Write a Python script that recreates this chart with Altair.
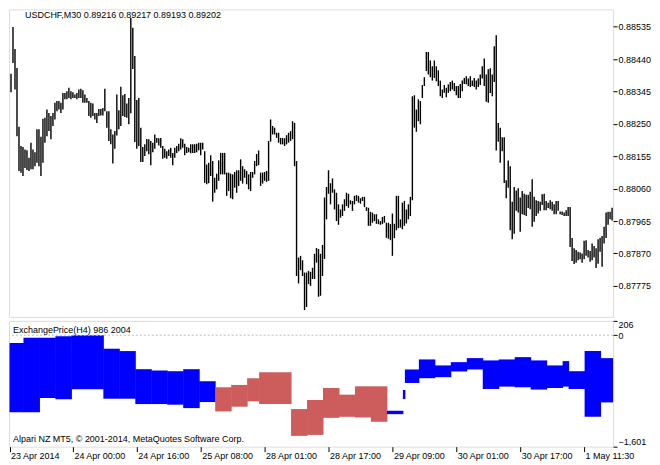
import altair as alt
import pandas as pd

FONT = "Liberation Sans"

title_text = "USDCHF,M30  0.89216 0.89217 0.89193 0.89202"
ind_title = "ExchangePrice(H4) 986 2004"
copyright_text = "Alpari NZ MT5, \u00a9 2001-2014, MetaQuotes Software Corp."

# M30 bars, high / low prices (bar 1 .. 302)
high = [
    0.88397, 0.88534, 0.88470, 0.88414, 0.88242, 0.88185, 0.88182, 0.88175, 0.88173, 0.88151,
    0.88195, 0.88175, 0.88167, 0.88234, 0.88234, 0.88212, 0.88265, 0.88268, 0.88292, 0.88282,
    0.88273, 0.88282, 0.88312, 0.88317, 0.88317, 0.88312, 0.88341, 0.88341, 0.88346, 0.88356,
    0.88346, 0.88343, 0.88336, 0.88341, 0.88351, 0.88353, 0.88349, 0.88336, 0.88326, 0.88317,
    0.88312, 0.88310, 0.88282, 0.88282, 0.88294, 0.88294, 0.88297, 0.88353, 0.88287, 0.88287,
    0.88234, 0.88219, 0.88229, 0.88336, 0.88290, 0.88359, 0.88334, 0.88338, 0.88310, 0.88326,
    0.88561, 0.88532, 0.88449, 0.88320, 0.88326, 0.88239, 0.88182, 0.88190, 0.88206, 0.88205,
    0.88200, 0.88195, 0.88219, 0.88209, 0.88208, 0.88209, 0.88185, 0.88177, 0.88170, 0.88175,
    0.88180, 0.88165, 0.88180, 0.88185, 0.88192, 0.88208, 0.88205, 0.88192, 0.88182, 0.88180,
    0.88190, 0.88190, 0.88190, 0.88192, 0.88195, 0.88195, 0.88195, 0.88170, 0.88131, 0.88136,
    0.88158, 0.88141, 0.88092, 0.88104, 0.88143, 0.88165, 0.88165, 0.88165, 0.88107, 0.88107,
    0.88104, 0.88102, 0.88109, 0.88114, 0.88114, 0.88146, 0.88126, 0.88117, 0.88112, 0.88102,
    0.88109, 0.88109, 0.88141, 0.88162, 0.88172, 0.88107, 0.88107, 0.88109, 0.88112, 0.88200,
    0.88263, 0.88244, 0.88239, 0.88224, 0.88224, 0.88209, 0.88209, 0.88208, 0.88217, 0.88224,
    0.88229, 0.88258, 0.88253, 0.88141, 0.87858, 0.87863, 0.87850, 0.87814, 0.87814, 0.87819,
    0.87816, 0.87828, 0.87869, 0.87886, 0.87883, 0.87869, 0.87895, 0.88034, 0.88065, 0.88114,
    0.88076, 0.88090, 0.88058, 0.88048, 0.88014, 0.87999, 0.88014, 0.88029, 0.88048, 0.88045,
    0.88026, 0.88024, 0.88039, 0.88041, 0.88039, 0.88032, 0.88036, 0.88036, 0.88006, 0.88004,
    0.87992, 0.87990, 0.87985, 0.87985, 0.87970, 0.87965, 0.87977, 0.87980, 0.87960, 0.87960,
    0.87956, 0.87987, 0.87957, 0.88039, 0.88039, 0.87970, 0.88019, 0.88024, 0.87999, 0.88014,
    0.88036, 0.88331, 0.88334, 0.88292, 0.88322, 0.88317, 0.88364, 0.88387, 0.88461, 0.88461,
    0.88436, 0.88419, 0.88436, 0.88419, 0.88407, 0.88377, 0.88351, 0.88364, 0.88356, 0.88366,
    0.88373, 0.88377, 0.88370, 0.88361, 0.88361, 0.88367, 0.88377, 0.88385, 0.88390, 0.88383,
    0.88390, 0.88377, 0.88385, 0.88377, 0.88383, 0.88395, 0.88419, 0.88442, 0.88395, 0.88410,
    0.88413, 0.88395, 0.88478, 0.88510, 0.88253, 0.88239, 0.88211, 0.88211, 0.88085, 0.88143,
    0.88126, 0.88022, 0.88065, 0.88055, 0.88061, 0.88034, 0.88053, 0.88045, 0.88042, 0.88042,
    0.88051, 0.88088, 0.88036, 0.88026, 0.88024, 0.88022, 0.88044, 0.88045, 0.88024, 0.88019,
    0.88026, 0.88022, 0.88014, 0.88024, 0.88024, 0.87993, 0.87993, 0.87990, 0.87997, 0.88006,
    0.88006, 0.87915, 0.87885, 0.87880, 0.87875, 0.87873, 0.87870, 0.87907, 0.87909, 0.87880,
    0.87877, 0.87899, 0.87892, 0.87885, 0.87912, 0.87916, 0.87921, 0.87948, 0.87990, 0.87992,
    0.87992, 0.88004,
]
low = [
    0.88343, 0.88429, 0.88351, 0.88214, 0.88112, 0.88107, 0.88097, 0.88121, 0.88115, 0.88112,
    0.88117, 0.88117, 0.88126, 0.88136, 0.88126, 0.88097, 0.88136, 0.88195, 0.88214, 0.88229,
    0.88205, 0.88244, 0.88263, 0.88287, 0.88292, 0.88282, 0.88292, 0.88322, 0.88322, 0.88326,
    0.88322, 0.88326, 0.88326, 0.88322, 0.88326, 0.88326, 0.88312, 0.88312, 0.88312, 0.88273,
    0.88268, 0.88273, 0.88263, 0.88253, 0.88273, 0.88275, 0.88275, 0.88287, 0.88239, 0.88200,
    0.88190, 0.88134, 0.88177, 0.88216, 0.88234, 0.88244, 0.88273, 0.88270, 0.88268, 0.88249,
    0.88281, 0.88411, 0.88197, 0.88177, 0.88185, 0.88138, 0.88138, 0.88156, 0.88170, 0.88161,
    0.88129, 0.88167, 0.88177, 0.88195, 0.88187, 0.88180, 0.88148, 0.88151, 0.88148, 0.88156,
    0.88151, 0.88129, 0.88151, 0.88165, 0.88170, 0.88175, 0.88180, 0.88158, 0.88165, 0.88167,
    0.88164, 0.88165, 0.88165, 0.88167, 0.88173, 0.88158, 0.88175, 0.88077, 0.88073, 0.88076,
    0.88097, 0.88022, 0.88048, 0.88058, 0.88083, 0.88102, 0.88102, 0.88102, 0.88039, 0.88053,
    0.88032, 0.88029, 0.88063, 0.88048, 0.88068, 0.88083, 0.88075, 0.88092, 0.88073, 0.88058,
    0.88053, 0.88092, 0.88102, 0.88126, 0.88129, 0.88068, 0.88075, 0.88083, 0.88080, 0.88083,
    0.88198, 0.88219, 0.88219, 0.88209, 0.88195, 0.88190, 0.88190, 0.88185, 0.88190, 0.88195,
    0.88200, 0.88205, 0.88126, 0.87804, 0.87782, 0.87821, 0.87804, 0.87704, 0.87713, 0.87780,
    0.87775, 0.87795, 0.87795, 0.87843, 0.87743, 0.87746, 0.87804, 0.87854, 0.87970, 0.88045,
    0.88014, 0.88048, 0.87999, 0.87965, 0.87954, 0.87975, 0.87980, 0.87995, 0.88009, 0.88004,
    0.88014, 0.87995, 0.88014, 0.88024, 0.88019, 0.88016, 0.88024, 0.88006, 0.87995, 0.87951,
    0.87951, 0.87960, 0.87965, 0.87957, 0.87956, 0.87954, 0.87956, 0.87960, 0.87916, 0.87913,
    0.87909, 0.87863, 0.87915, 0.87938, 0.87944, 0.87946, 0.87941, 0.87951, 0.87958, 0.87970,
    0.87980, 0.88026, 0.88239, 0.88227, 0.88258, 0.88249, 0.88326, 0.88361, 0.88405, 0.88395,
    0.88387, 0.88377, 0.88385, 0.88375, 0.88361, 0.88331, 0.88326, 0.88341, 0.88328, 0.88341,
    0.88346, 0.88351, 0.88346, 0.88334, 0.88326, 0.88326, 0.88346, 0.88367, 0.88366, 0.88361,
    0.88358, 0.88361, 0.88358, 0.88351, 0.88358, 0.88364, 0.88383, 0.88361, 0.88315, 0.88312,
    0.88341, 0.88331, 0.88373, 0.88172, 0.88198, 0.88136, 0.88170, 0.88077, 0.88032, 0.88063,
    0.87938, 0.87912, 0.87928, 0.87995, 0.87990, 0.87934, 0.87985, 0.87983, 0.87980, 0.88003,
    0.88000, 0.87948, 0.87963, 0.87980, 0.87987, 0.87995, 0.88012, 0.87997, 0.87997, 0.88003,
    0.88000, 0.87995, 0.87985, 0.87985, 0.87995, 0.87985, 0.87983, 0.87980, 0.87980, 0.87980,
    0.87889, 0.87848, 0.87839, 0.87843, 0.87850, 0.87853, 0.87843, 0.87853, 0.87863, 0.87858,
    0.87846, 0.87850, 0.87858, 0.87827, 0.87840, 0.87875, 0.87831, 0.87899, 0.87915, 0.87954,
    0.87970, 0.87967,
]

price_ticks = [0.88535, 0.88440, 0.88345, 0.88250, 0.88155, 0.88060, 0.87965, 0.87870, 0.87775]
price_domain = [0.87684, 0.88586]

time_tick_bars = [0.25, 32, 64, 96, 128, 160, 192, 224, 256, 288]
time_tick_labels = ["23 Apr 2014", "24 Apr 00:00", "24 Apr 16:00", "25 Apr 08:00",
                    "28 Apr 01:00", "28 Apr 17:00", "29 Apr 09:00", "30 Apr 01:00",
                    "30 Apr 17:00", "1 May 11:30"]

# ExchangePrice(H4) indicator: bar ranges with upper / lower value and colour
seg_start = [1, 8, 16, 24, 32, 48, 56, 64, 72, 80, 88, 96, 104, 112, 120, 126, 142, 150, 158,
             166, 174, 182, 190, 198, 199, 206, 214, 222, 230, 238, 246, 254, 262, 270, 278,
             281, 289, 297]
seg_end = [7, 15, 23, 31, 47, 55, 63, 71, 79, 87, 95, 103, 111, 119, 125, 141, 149, 157, 165,
           173, 181, 189, 197, 198, 205, 213, 221, 229, 237, 245, 253, 261, 269, 277, 280,
           288, 296, 302]
seg_top = [-112, -35, -35, -15, -2, -194, -228, -488, -507, -517, -488, -661, -748, -714, -618,
           -531, -1061, -931, -758, -854, -734, -734, -1085, -787, -492, -348, -434, -387, -329,
           -362, -348, -315, -362, -434, -372, -517, -228, -329]
seg_bottom = [-1105, -1105, -902, -921, -777, -912, -912, -989, -989, -998, -1047, -960, -1095,
              -1027, -950, -989, -1446, -1432, -1187, -1172, -1182, -1244, -1134, -917, -686,
              -618, -603, -521, -492, -773, -738, -748, -781, -758, -738, -773, -1172, -965]
seg_dir = ["up"] * 12 + ["down"] * 10 + ["up"] * 16
ind_ticks = [206, 0, -1601]
ind_domain = [-1601, 206]

bars = pd.DataFrame({"bar": list(range(1, len(high) + 1)), "high": high, "low": low})
segs = pd.DataFrame({"start": seg_start, "end": seg_end, "top": seg_top,
                     "bottom": seg_bottom, "dir": seg_dir})
segs["x0"] = segs["start"] - 0.75
segs["x1"] = segs["end"] + 0.5   # slight overlap avoids hairline seams

W = 605
x_scale = alt.Scale(domain=[0, 302.5], nice=False, zero=False)

label_expr = " : ".join(f"datum.value == {v} ? '{l}'" for v, l in zip(time_tick_bars, time_tick_labels)) + " : ''"

price_axis = alt.Axis(orient="right", values=price_ticks, format=".5f", tickSize=4,
                      tickColor="black", labelPadding=1, domain=False, grid=False, title=None,
                      labelFont=FONT, labelFontSize=9, labelColor="black")

rules = alt.Chart(bars).mark_rule(color="black", strokeWidth=1.4).encode(
    x=alt.X("bar:Q", scale=x_scale, axis=None),
    y=alt.Y("low:Q", scale=alt.Scale(domain=price_domain, nice=False, zero=False), axis=price_axis),
    y2="high:Q",
)
title_mark = alt.Chart(pd.DataFrame({"t": [title_text]})).mark_text(
    align="left", baseline="middle", font=FONT, fontSize=9, color="black"
).encode(text="t:N", x=alt.value(16), y=alt.value(6))

top = alt.layer(rules, title_mark).properties(width=W, height=308)

ind_axis = alt.Axis(orient="right", values=ind_ticks, tickSize=4, tickColor="black",
                    labelPadding=1, labelFlush=True, domain=False, grid=False, title=None,
                    labelFont=FONT, labelFontSize=9, labelColor="black")
time_axis = alt.Axis(values=time_tick_bars, labelExpr=label_expr, labelAlign="left",
                     labelBaseline="top", labelPadding=0, labelOffset=1, tickSize=5,
                     tickColor="black", domain=False, grid=False, title=None,
                     labelFont=FONT, labelFontSize=9, labelColor="black",
                     labelOverlap=False, labelFlush=False, labelBound=False)
ind_y = alt.Scale(domain=ind_domain, nice=False, zero=False)

ind = alt.Chart(segs).mark_rect().encode(
    x=alt.X("x0:Q", scale=x_scale, axis=time_axis),
    x2="x1:Q",
    y=alt.Y("top:Q", scale=ind_y, axis=ind_axis),
    y2="bottom:Q",
    color=alt.Color("dir:N", scale=alt.Scale(domain=["up", "down"], range=["#0000FF", "#CD5C5C"]),
                    legend=None),
)
zero_line = alt.Chart(pd.DataFrame({"z": [0]})).mark_rule(
    color="#BEBEBE", strokeDash=[2, 2], strokeWidth=1
).encode(y=alt.Y("z:Q", scale=ind_y))
ind_label = alt.Chart(pd.DataFrame({"t": [ind_title]})).mark_text(
    align="left", baseline="middle", font=FONT, fontSize=9, color="black"
).encode(text="t:N", x=alt.value(4), y=alt.value(9.5))
copy_label = alt.Chart(pd.DataFrame({"t": [copyright_text]})).mark_text(
    align="left", baseline="middle", font=FONT, fontSize=9, color="black"
).encode(text="t:N", x=alt.value(4), y=alt.value(118.5))

bottom = alt.layer(ind, zero_line, ind_label, copy_label).properties(width=W, height=126)

chart = alt.vconcat(top, bottom, spacing=2).resolve_scale(y="independent").properties(
    padding=0
).configure_view(stroke="black", strokeWidth=1).configure(background="white")

chart.save("out.html", embed_options={"renderer": "svg", "actions": False})
